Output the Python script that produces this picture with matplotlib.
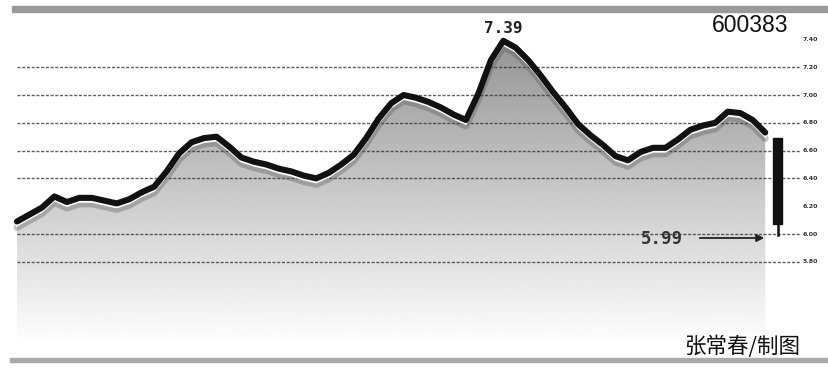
import numpy as np
import matplotlib
matplotlib.use('Agg')
import matplotlib.pyplot as plt
from matplotlib.patches import Rectangle

plt.rcParams['font.family'] = ['Noto Sans CJK SC', 'DejaVu Sans']

# 600383 daily closes
days = list(range(61))
close = [6.09, 6.14, 6.19, 6.27, 6.23, 6.26, 6.26, 6.24, 6.22, 6.25,
         6.30, 6.34, 6.45, 6.58, 6.66, 6.69, 6.70, 6.63, 6.55, 6.52,
         6.50, 6.47, 6.45, 6.42, 6.40, 6.44, 6.50, 6.57, 6.69, 6.83,
         6.94, 7.00, 6.98, 6.95, 6.91, 6.86, 6.82, 7.01, 7.25, 7.39,
         7.34, 7.25, 7.14, 7.02, 6.91, 6.79, 6.71, 6.64, 6.56, 6.53,
         6.59, 6.62, 6.62, 6.68, 6.75, 6.78, 6.80, 6.88, 6.87, 6.82,
         6.73]

# last day candle
candle_day = 61
candle_open = 6.69
candle_close = 6.07
candle_low = 5.99

high_label = '7.39'
low_label = '5.99'
code = '600383'
credit = '张常春/制图'

grid_prices = [7.20, 7.00, 6.80, 6.60, 6.40, 6.00, 5.80]
tick_prices = [7.40, 7.20, 7.00, 6.80, 6.60, 6.40, 6.20, 6.00, 5.80]

px_day = 12.47      # pixels per trading day
px_unit = 139.0     # pixels per 1.00 yuan

fig = plt.figure(figsize=(8.29, 3.68), dpi=100)
ax = fig.add_axes([0, 0, 1, 1])
ax.set_xlim(-17 / px_day, (829 - 17) / px_day)
ax.set_ylim(6 - 134 / px_unit, 6 + 234 / px_unit)
ax.axis('off')

def dy(px):
    return px / px_unit

def dx(px):
    return px / px_day

def px_x(p):
    return (p - 17) / px_day

def px_y(p):
    return 6 + (234 - p) / px_unit

x = np.array(days, dtype=float)
y = np.array(close)
bottom = px_y(345)

# gradient fill under the line
poly = ax.fill_between(x, y, bottom, color='none', lw=0)
grad = np.linspace(148, 255, 256) / 255.0
img = np.tile(grad[:, None], (1, 2))
im = ax.imshow(img, cmap='gray', vmin=0, vmax=1, aspect='auto',
               extent=[x[0] - dx(2), x[-1] + dx(2), bottom, px_y(40)],
               origin='upper', zorder=1)
path = poly.get_paths()[0]
im.set_clip_path(path, transform=ax.transData)

# dotted grid lines
for p in grid_prices:
    ax.plot([0, px_x(800)], [p, p], color='#2a2a2a', lw=1.0,
            ls=(0, (2.2, 1.2)), alpha=0.75, zorder=2)

# right-hand price labels
for p in tick_prices:
    ax.text(px_x(803), p, '%.2f' % p, fontsize=4.5, fontweight='bold',
            color='#333333', va='center', ha='left', family='DejaVu Sans')

# shadow, highlight and main line
ax.plot(x, y - dy(6), color='#555555', lw=5, alpha=0.35, zorder=3,
        solid_capstyle='round', solid_joinstyle='round')
ax.plot(x, y - dy(3.5), color='white', lw=2.0, zorder=4,
        solid_joinstyle='round')
ax.plot(x, y, color='#111111', lw=4.4, zorder=5,
        solid_capstyle='round', solid_joinstyle='round')

# candle
ax.plot([candle_day, candle_day], [candle_close, candle_low],
        color='#111111', lw=1.8, zorder=5)
w = dx(9)
ax.add_patch(Rectangle((candle_day - w / 2, candle_close), w,
                       candle_open - candle_close, color='#111111', zorder=6))

# labels
ax.text(39, px_y(28), high_label, fontsize=11.5, fontweight='bold',
        family='DejaVu Sans Mono', ha='center', va='center', color='#222222')
ax.text(px_x(662), px_y(239), low_label, fontsize=12.5,
        fontweight='bold', family='DejaVu Sans Mono', ha='center',
        va='center', color='#333333', zorder=7)
ax.annotate('', xy=(px_x(767), px_y(238)), xytext=(px_x(697), px_y(238)),
            arrowprops=dict(arrowstyle='-|>', color='#222222', lw=1.3,
                            mutation_scale=11), zorder=7)
ax.text(px_x(750), px_y(25.5), code, fontsize=16.5,
        family='Liberation Sans', ha='center', va='center', color='#111111')
ax.text(px_x(742), px_y(347), credit, fontsize=15.5,
        ha='center', va='center', color='#111111')

# frame bars
fig.add_artist(Rectangle((12 / 829, 1 - 12 / 368), 1, 6 / 368,
                         transform=fig.transFigure, color='#9a9a9a'))
fig.add_artist(Rectangle((10 / 829, 1 - 362 / 368), 1, 4 / 368,
                         transform=fig.transFigure, color='#aaaaaa'))

fig.savefig('out.png', dpi=100)
